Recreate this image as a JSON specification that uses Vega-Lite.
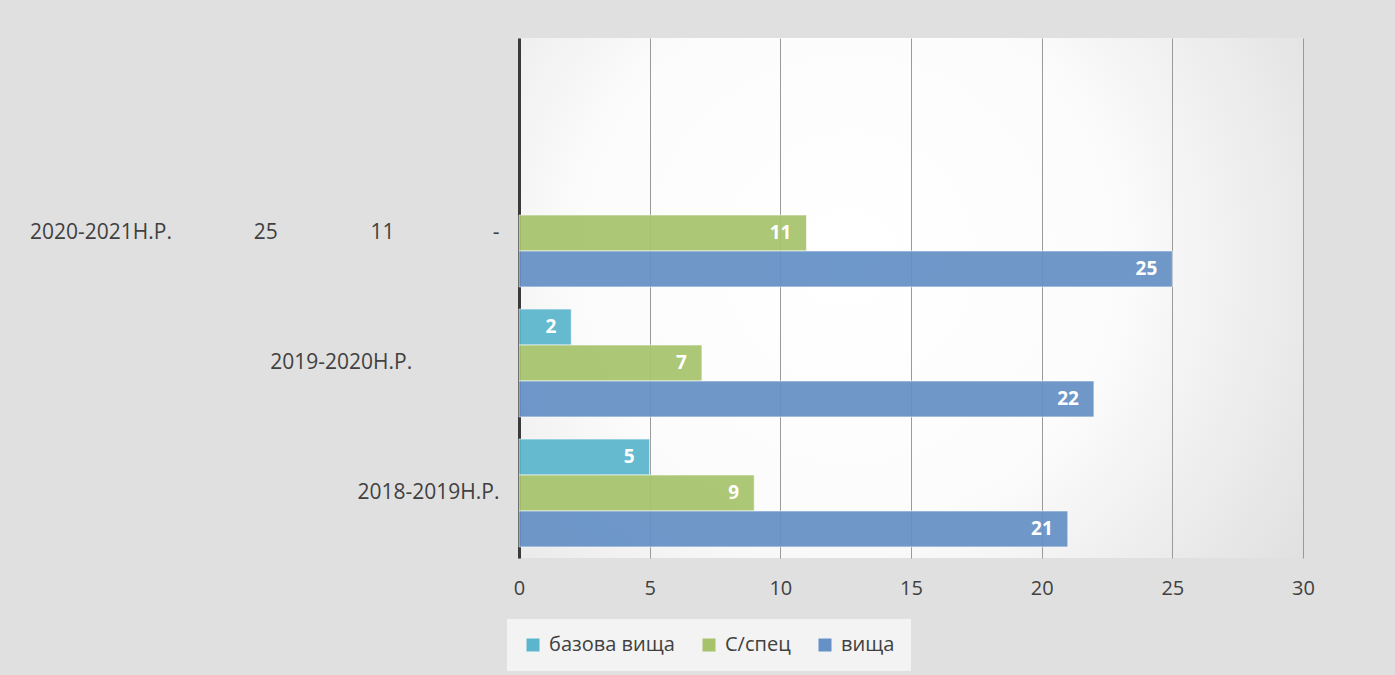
{
  "$schema": "https://vega.github.io/schema/vega-lite/v6.json",
  "width": 784,
  "height": 520,
  "autosize": {"type": "none"},
  "padding": {"left": 519, "top": 38, "right": 92, "bottom": 117},
  "background": "#e0e0e0",
  "config": {
    "font": "Open Sans",
    "view": {
      "stroke": null,
      "fill": {
        "gradient": "radial",
        "x1": 0.42, "y1": 0.45, "x2": 0.42, "y2": 0.45,
        "r1": 0, "r2": 0.85,
        "stops": [
          {"offset": 0, "color": "#ffffff"},
          {"offset": 0.4, "color": "#fcfcfc"},
          {"offset": 1, "color": "#d4d4d4"}
        ]
      }
    }
  },
  "data": {
    "values": [
      {"year": "2018-2019Н.Р.", "series": "базова вища", "value": 5},
      {"year": "2018-2019Н.Р.", "series": "С/спец", "value": 9},
      {"year": "2018-2019Н.Р.", "series": "вища", "value": 21},
      {"year": "2019-2020Н.Р.", "series": "базова вища", "value": 2},
      {"year": "2019-2020Н.Р.", "series": "С/спец", "value": 7},
      {"year": "2019-2020Н.Р.", "series": "вища", "value": 22},
      {"year": "2020-2021Н.Р.", "series": "С/спец", "value": 11},
      {"year": "2020-2021Н.Р.", "series": "вища", "value": 25}
    ]
  },
  "encoding": {
    "y": {
      "field": "year",
      "type": "nominal",
      "scale": {
        "domain": [" ", "2020-2021Н.Р.", "2019-2020Н.Р.", "2018-2019Н.Р."],
        "paddingInner": 0.17,
        "paddingOuter": 0.085
      },
      "axis": {
        "title": null,
        "domain": true,
        "domainColor": "#3a3a3a",
        "domainWidth": 3,
        "ticks": false,
        "grid": false,
        "labelPadding": 20,
        "labelFontSize": 21,
        "labelColor": "#404040",
        "labelLimit": 0,
        "labelExpr": "datum.value == '2020-2021Н.Р.' ? '2020-2021Н.Р.\u00a0\u00a0\u00a0\u00a0\u00a0\u00a0\u00a0\u00a0\u00a0\u00a0\u00a0\u00a0\u00a0\u00a0\u00a025\u00a0\u00a0\u00a0\u00a0\u00a0\u00a0\u00a0\u00a0\u00a0\u00a0\u00a0\u00a0\u00a0\u00a0\u00a0\u00a0\u00a011\u00a0\u00a0\u00a0\u00a0\u00a0\u00a0\u00a0\u00a0\u00a0\u00a0\u00a0\u00a0\u00a0\u00a0\u00a0\u00a0\u00a0\u00a0-' : datum.value == '2019-2020Н.Р.' ? '2019-2020Н.Р.\u00a0\u00a0\u00a0\u00a0\u00a0\u00a0\u00a0\u00a0\u00a0\u00a0\u00a0\u00a0\u00a0\u00a0\u00a0\u00a0\u200b' : datum.value"
      }
    },
    "yOffset": {
      "field": "series",
      "scale": {
        "domain": ["базова вища", "С/спец", "вища"],
        "paddingInner": 0,
        "paddingOuter": 0
      }
    },
    "x": {
      "field": "value",
      "type": "quantitative",
      "scale": {"domain": [0, 30]},
      "axis": {
        "title": null,
        "domain": false,
        "ticks": false,
        "grid": true,
        "gridColor": "#9a9a9a",
        "gridWidth": 1,
        "values": [0, 5, 10, 15, 20, 25, 30],
        "labelFlush": false,
        "labelPadding": 20,
        "labelFontSize": 20,
        "labelColor": "#404040"
      }
    }
  },
  "layer": [
    {
      "mark": {"type": "bar", "stroke": "#ffffff", "strokeWidth": 1, "strokeOpacity": 0.6, "opacity": 0.93},
      "encoding": {
        "color": {
          "field": "series",
          "type": "nominal",
          "scale": {
            "domain": ["базова вища", "С/спец", "вища"],
            "range": ["#5bb6cd", "#a6c36b", "#6591c6"]
          },
          "legend": {
            "title": null,
            "orient": "none",
            "direction": "horizontal",
            "legendX": -12,
            "legendY": 581,
            "padding": 16,
            "fillColor": "#f3f3f3",
            "symbolType": "square",
            "symbolSize": 169,
            "symbolStrokeWidth": 0,
            "symbolOpacity": 1,
            "labelFontSize": 20,
            "labelColor": "#404040",
            "labelOffset": 6,
            "columnPadding": 24
          }
        }
      }
    },
    {
      "mark": {"type": "text", "align": "right", "baseline": "middle", "dx": -15, "color": "#ffffff", "fontWeight": "bold", "fontSize": 19},
      "encoding": {"text": {"field": "value", "type": "quantitative"}}
    }
  ]
}
